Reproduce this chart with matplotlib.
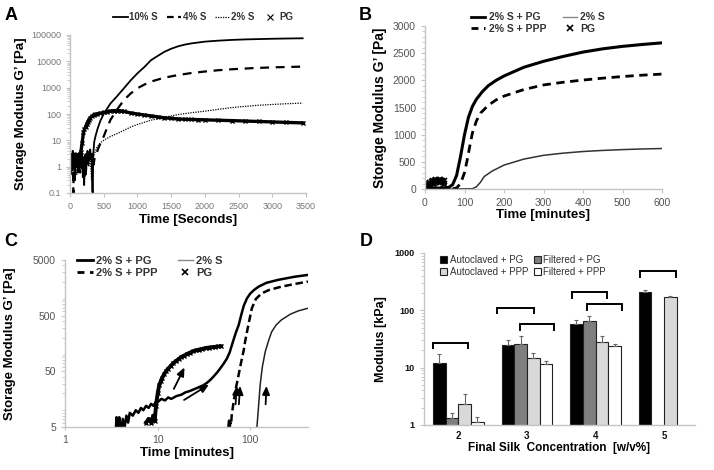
import numpy as np
import matplotlib
matplotlib.use('Agg')
import matplotlib.pyplot as plt
from matplotlib.lines import Line2D
from matplotlib.ticker import FixedLocator, FixedFormatter, LogLocator, NullFormatter

plt.rcParams['font.family'] = ['Liberation Sans', 'DejaVu Sans']

# ---------------- Panel A data (time in s, G' in Pa) ----------------
a10_t = [0, 10, 20, 30, 40, 50, 60, 70, 80, 90, 100, 110, 120, 130, 140, 150, 160, 170, 180, 190,
         200, 210, 220, 230, 240, 250, 260, 270, 280, 290, 300, 310, 320, 330, 338, 345, 360, 380,
         410, 450, 500, 550, 600, 700, 800, 900, 1000, 1100, 1200, 1300, 1400, 1500, 1600, 1700,
         1800, 2000, 2200, 2400, 2600, 2800, 3000, 3200, 3450]
a10_v = [2, 0.5, 3, 1, 4, 0.8, 2.5, 0.3, 1.5, 3, 1.2, 2.8, 0.6, 2, 3.5, 1, 2.2, 0.9, 2.8, 0.4,
         1.5, 0.2, 1.8, 3, 0.7, 2.5, 4, 1.2, 3, 1.8, 4.5, 2, 3, 0.12, 0.1, 3, 9, 15,
         28, 55, 100, 160, 250, 480, 950, 1900, 3500, 6000, 11000, 16000, 23000, 30000, 37000, 43000,
         48000, 56000, 61000, 65000, 68000, 70000, 72000, 73500, 75000]
a4_t = [0, 15, 30, 45, 50, 55, 70, 90, 110, 130, 150, 170, 190, 210, 230, 250, 270, 290, 310,
        330, 350, 370, 390, 420, 450, 500, 550, 600, 700, 800, 900, 1000, 1100, 1200, 1400, 1600,
        1800, 2000, 2200, 2400, 2700, 3000, 3450]
a4_v = [1.5, 3, 0.8, 2, 0.1, 1.2, 2.5, 1, 3, 1.5, 0.6, 2.2, 3.5, 1.2, 0.5, 2.8, 1.5, 4, 2,
        3, 1.2, 2.5, 3, 5, 7.6, 14, 30, 60, 150, 340, 600, 950, 1300, 1700, 2400, 3000,
        3600, 4100, 4600, 5000, 5500, 5900, 6300]
a2_t = [0, 20, 40, 60, 80, 100, 120, 140, 160, 180, 200, 220, 240, 260, 280, 300, 320, 340,
        360, 380, 400, 450, 500, 600, 700, 800, 900, 1000, 1200, 1400, 1600, 1800, 2000, 2200,
        2400, 2600, 2800, 3000, 3200, 3450]
a2_v = [1, 2.5, 0.7, 3, 1.8, 0.5, 2, 1.2, 3, 0.8, 2.2, 0.4, 1.5, 3, 1, 2.5, 0.3, 2,
        3, 4, 5.6, 8, 10, 14, 18, 24, 32, 40, 58, 75, 95, 112, 128, 150,
        175, 195, 215, 230, 245, 260]
apg_t = [0, 20, 40, 60, 80, 100, 120, 140, 160, 180, 200, 215, 230, 245, 260, 280, 300, 325,
         350, 375, 400, 450, 500, 550, 600, 650, 700, 750, 800, 900, 1000, 1100, 1200, 1300, 1400,
         1500, 1600, 1700, 1800, 1900, 2000, 2200, 2400, 2600, 2800, 3000, 3200, 3450]
apg_v = [1.5, 2.5, 1, 3, 2, 1.2, 2.8, 1.5, 3.5, 8, 20, 26, 32, 40, 48, 60, 72, 82,
         90, 96, 100, 108, 115, 122, 130, 134, 135, 132, 125, 110, 100, 92, 85, 78, 72,
         68, 65, 63, 62, 61, 60, 58, 56, 54, 52, 50, 48, 46]
a_yticks = [0.1, 1, 10, 100, 1000, 10000, 100000]
a_ylabels = ['0.1', '1', '10', '100', '1000', '10000', '100000']
a_xticks = [0, 500, 1000, 1500, 2000, 2500, 3000, 3500]

# ---------------- Panel B data (time in min, G' in Pa) ----------------
bpg_t = [0, 20, 40, 55, 60, 70, 80, 90, 100, 110, 120, 130, 145, 160, 180, 200, 250, 300, 350,
         400, 450, 500, 550, 600]
bpg_v = [0, 10, 20, 25, 30, 80, 250, 600, 1000, 1320, 1520, 1650, 1790, 1900, 2000, 2080, 2240,
         2350, 2440, 2520, 2580, 2625, 2660, 2690]
bppp_t = [0, 40, 70, 80, 90, 100, 107, 115, 120, 130, 141, 160, 180, 200, 250, 300, 350, 400,
          450, 500, 550, 600]
bppp_v = [0, 0, 5, 20, 100, 300, 540, 850, 1030, 1250, 1400, 1540, 1640, 1710, 1830, 1915, 1965,
          2005, 2040, 2070, 2095, 2115]
bs_t = [0, 60, 120, 130, 140, 150, 170, 200, 250, 300, 350, 400, 450, 500, 550, 600]
bs_v = [0, 0, 5, 40, 120, 230, 330, 440, 550, 620, 660, 690, 710, 725, 737, 745]
bmk_t = [1, 3, 5, 7, 9, 11, 13, 15, 17, 19, 21, 23, 25, 27, 29, 31, 33, 35, 37, 39, 41, 43, 45,
         47, 49]
bmk_v = [10, 40, 70, 20, 90, 50, 110, 80, 130, 100, 140, 115, 150, 125, 160, 140, 150, 165,
         135, 160, 140, 150, 125, 140, 100]
b_yticks = [0, 500, 1000, 1500, 2000, 2500, 3000]
b_xticks = [0, 100, 200, 300, 400, 500, 600]

# ---------------- Panel C data (log-log) ----------------
cpg_t = [3.55, 3.6, 3.7, 3.75, 3.85, 3.95, 4.1, 4.2, 4.4, 4.6, 4.8, 5.0, 5.4, 5.8, 6.2, 6.6, 7.0,
         7.5, 8, 8.5, 9, 9.5, 10, 11, 12, 13, 14, 15, 16, 18, 20, 22, 25, 28, 31, 34, 37, 40, 44,
         48, 52, 56, 60, 65, 70, 75, 80, 85, 92, 100, 110, 123, 150, 200, 300, 420]
cpg_v = [5, 7.5, 5, 5, 7.5, 5, 5, 7, 5, 8, 6, 9, 8, 10, 9, 11, 10,
         12, 11, 13, 12, 14, 14, 16, 15, 17, 16, 17, 18, 19, 21, 22, 24, 26, 28, 31, 35, 40, 48,
         58, 70, 85, 110, 170, 250, 340, 520, 750, 1020, 1250, 1450, 1660, 1950, 2200, 2500, 2700]
cppp_t = [58, 59, 60, 61, 62, 63, 66, 70, 75, 80, 85, 88, 95, 104, 115, 133, 160, 217, 300, 420]
cppp_v = [5, 6.5, 5, 6, 5.5, 8, 14, 25, 44, 75, 120, 172, 330, 680, 1000, 1260, 1450, 1660, 1850,
          2050]
cs_t = [118, 122, 128, 135, 145, 158, 170, 190, 217, 270, 330, 420]
cs_v = [5, 10, 29, 60, 112, 180, 255, 340, 420, 530, 610, 680]
cmk_t = [7.5, 8.0, 8.5, 9.0, 9.3, 9.6, 10, 10.4, 10.8, 11.2, 11.7, 12.3, 13, 13.8, 14.7, 15.7,
         16.8, 18, 19.3, 20.7, 22.2, 24, 26, 28, 30.5, 33, 36, 39, 42, 45, 48]
cmk_v = [6, 7, 6, 8, 6.5, 12, 20, 28, 33, 38, 44, 50, 56, 62, 70, 76, 83, 90, 96, 102, 108, 114,
         119, 123, 127, 131, 134, 136, 138, 140, 141]
c_yticks = [5, 50, 500, 5000]
c_xticks = [1, 10, 100]

# ---------------- Panel D data (kPa) ----------------
d_groups = ['2', '3', '4', '5']
d_auto_pg = [12, 25, 58, 210]
d_auto_pg_err = [5, 5, 10, 20]
d_filt_pg = [1.3, 26, 65, np.nan]
d_filt_pg_err = [0.3, 9, 15, np.nan]
d_auto_ppp = [2.3, 15, 28, 170]
d_auto_ppp_err = [1.2, 3, 8, 10]
d_filt_ppp = [1.15, 11.5, 23.5, np.nan]
d_filt_ppp_err = [0.25, 1.5, 2.5, np.nan]
d_bracket_group = [0, 1, 1, 2, 2, 3]
d_bracket_y = [27, 112, 57, 205, 128, 478]
d_yticks = [1, 10, 100, 1000]

W, H = 714, 470
fig = plt.figure(figsize=(W / 100, H / 100), dpi=100)


def box(l, t, r, b):
    return [l / W, 1 - b / H, (r - l) / W, (b - t) / H]


GRAY = '#c4c4c4'


def style(ax, labcolor='#555555', size=7, weight='normal'):
    for s in ['top', 'right']:
        ax.spines[s].set_visible(False)
    for s in ['left', 'bottom']:
        ax.spines[s].set_color(GRAY)
        ax.spines[s].set_linewidth(1.0)
    ax.tick_params(which='both', color=GRAY, direction='out', labelcolor=labcolor,
                   labelsize=size)
    ax.tick_params(which='major', length=3)
    ax.tick_params(which='minor', length=2)
    for lab in ax.get_xticklabels() + ax.get_yticklabels():
        lab.set_fontweight(weight)


# ---------------- Panel A ----------------
axA = fig.add_axes(box(70, 35, 306, 193))
axA.plot(a10_t, a10_v, color='black', lw=1.3)
axA.plot(a4_t, a4_v, color='black', lw=1.6, ls=(0, (4, 3)))
axA.plot(a2_t, a2_v, color='black', lw=0.9, ls=(0, (1, 1)))
axA.plot(apg_t, apg_v, color='black', lw=2.4, marker='x', ms=3.5, mew=1)
axA.set_yscale('log')
axA.set_xlim(0, 3500)
axA.set_ylim(0.1, 100000)
axA.yaxis.set_major_locator(FixedLocator(a_yticks))
axA.yaxis.set_major_formatter(FixedFormatter(a_ylabels))
axA.yaxis.set_minor_formatter(NullFormatter())
axA.set_xticks(a_xticks)
style(axA, labcolor='#777777', size=6.5)
axA.set_xlabel('Time [Seconds]', fontsize=9.5, fontweight='bold', labelpad=2)
axA.set_ylabel('Storage Modulus G’ [Pa]', fontsize=9.5, fontweight='bold', labelpad=3)
hA = [Line2D([], [], color='black', lw=1.3),
      Line2D([], [], color='black', lw=1.6, ls=(0, (3, 2))),
      Line2D([], [], color='black', lw=0.9, ls=(0, (1, 1))),
      Line2D([], [], color='black', lw=0, marker='x', ms=5, mew=0.8)]
fig.legend(hA, ['10% S', '4% S', '2% S', 'PG'], ncol=4, loc='center',
           bbox_to_anchor=(203 / W, 1 - 17 / H), frameon=False,
           prop={'size': 7, 'weight': 'bold'}, labelcolor='#333333',
           handlelength=1.5, handletextpad=0.15, columnspacing=0.9, borderaxespad=0)

# ---------------- Panel B ----------------
axB = fig.add_axes(box(425, 26, 662, 189))
axB.plot(bs_t, bs_v, color='#333333', lw=1.1)
axB.plot(bppp_t, bppp_v, color='black', lw=2.0, ls=(0, (3, 2)))
axB.plot(bpg_t, bpg_v, color='black', lw=2.2)
axB.plot(bmk_t, bmk_v, color='black', lw=3, marker='x', ms=4, mew=1.2)
axB.set_xlim(0, 600)
axB.set_ylim(0, 3000)
axB.set_yticks(b_yticks)
axB.set_xticks(b_xticks)
axB.yaxis.set_minor_locator(FixedLocator(np.arange(0, 3001, 100)))
style(axB, labcolor='#555555', size=7.5)
axB.set_xlabel('Time [minutes]', fontsize=9.5, fontweight='bold', labelpad=1)
axB.set_ylabel('Storage Modulus G’ [Pa]', fontsize=10, fontweight='bold', labelpad=4)
hB = [Line2D([], [], color='black', lw=2.0),
      Line2D([], [], color='black', lw=2.0, ls=(0, (2.5, 2))),
      Line2D([], [], color='#888888', lw=1.0),
      Line2D([], [], color='black', lw=0, marker='x', ms=4, mew=1.2)]
fig.legend(hB, ['2% S + PG', '2% S + PPP', '2% S', 'PG'], ncol=2, loc='center',
           bbox_to_anchor=(538 / W, 1 - 23 / H), frameon=False,
           prop={'size': 7.5, 'weight': 'bold'}, labelcolor='#333333',
           handlelength=1.4, handletextpad=0.3, columnspacing=1.6, labelspacing=0.15,
           borderaxespad=0)

# ---------------- Panel C ----------------
axC = fig.add_axes(box(65, 260, 308, 427))
axC.plot(cs_t, cs_v, color='#222222', lw=1.1)
axC.plot(cppp_t, cppp_v, color='black', lw=1.8, ls=(0, (3, 1.5)))
axC.plot(cpg_t, cpg_v, color='black', lw=1.8)
axC.plot(cmk_t, cmk_v, color='black', lw=2.8, marker='x', ms=3.5, mew=1)
axC.set_xscale('log')
axC.set_yscale('log')
axC.set_xlim(1, 420)
axC.set_ylim(5, 5000)
axC.yaxis.set_major_locator(FixedLocator(c_yticks))
axC.yaxis.set_major_formatter(FixedFormatter([str(v) for v in c_yticks]))
axC.yaxis.set_minor_locator(LogLocator(base=10, subs=np.arange(1, 10)))
axC.yaxis.set_minor_formatter(NullFormatter())
axC.xaxis.set_major_locator(FixedLocator(c_xticks))
axC.xaxis.set_major_formatter(FixedFormatter([str(v) for v in c_xticks]))
axC.xaxis.set_minor_locator(FixedLocator([]))
style(axC, labcolor='#555555', size=7.5)
axC.tick_params(axis='x', which='major', length=2)
axC.set_xlabel('Time [minutes]', fontsize=9.5, fontweight='bold', labelpad=2)
axC.set_ylabel('Storage Modulus G’ [Pa]', fontsize=9.5, fontweight='bold', labelpad=12)
arrow_kw = dict(arrowstyle='-|>,head_length=0.5,head_width=0.22', color='black', lw=1.3)
axC.annotate('', xy=(20.1, 65), xytext=(14.5, 21.8), arrowprops=arrow_kw)
axC.annotate('', xy=(37.9, 30.7), xytext=(18.2, 14.4), arrowprops=arrow_kw)
axC.annotate('', xy=(72, 30.7), xytext=(69, 11.4), arrowprops=arrow_kw)
axC.annotate('', xy=(78, 30.7), xytext=(75, 11.4), arrowprops=arrow_kw)
axC.annotate('', xy=(150, 30.7), xytext=(146, 11.4), arrowprops=arrow_kw)
hC = [Line2D([], [], color='black', lw=2.0),
      Line2D([], [], color='black', lw=2.0, ls=(0, (2.5, 2))),
      Line2D([], [], color='#888888', lw=1.0),
      Line2D([], [], color='black', lw=0, marker='x', ms=4, mew=1.2)]
fig.legend(hC, ['2% S + PG', '2% S + PPP', '2% S', 'PG'], ncol=2, loc='center',
           bbox_to_anchor=(150 / W, 1 - 267 / H), frameon=False,
           prop={'size': 8, 'weight': 'bold'}, labelcolor='#333333',
           handlelength=1.4, handletextpad=0.3, columnspacing=1.8, labelspacing=0.15,
           borderaxespad=0)

# ---------------- Panel D ----------------
axD = fig.add_axes(box(424, 253, 695, 425))
xg = np.arange(len(d_groups))
bw = 0.185
series = [(d_auto_pg, d_auto_pg_err, 'black', 'Autoclaved + PG'),
          (d_filt_pg, d_filt_pg_err, '#7f7f7f', 'Filtered + PG'),
          (d_auto_ppp, d_auto_ppp_err, '#d9d9d9', 'Autoclaved + PPP'),
          (d_filt_ppp, d_filt_ppp_err, 'white', 'Filtered + PPP')]
handles = {}
for i, (vals, errs, col, lab) in enumerate(series):
    xs = xg + (i - 1.5) * bw
    vals = np.array(vals, dtype=float)
    errs = np.array(errs, dtype=float)
    b = axD.bar(xs, vals, width=bw, color=col, edgecolor='#222222', linewidth=0.8, label=lab,
                zorder=2)
    ok = ~np.isnan(vals)
    axD.errorbar(xs[ok], vals[ok], yerr=[np.zeros(ok.sum()), errs[ok]], fmt='none',
                 ecolor='#666666', elinewidth=0.8, capsize=1.5, capthick=0.8, zorder=3)
    handles[lab] = b
# significance brackets
b_x0 = [-0.365, -0.43, -0.10, -0.35, -0.13, -0.35]
b_x1 = [0.146, 0.10, 0.40, 0.17, 0.39, 0.17]
for g, y, x0, x1 in zip(d_bracket_group, d_bracket_y, b_x0, b_x1):
    axD.plot([g + x0, g + x0, g + x1, g + x1], [y / 1.25, y, y, y / 1.25], color='black',
             lw=1.4, solid_joinstyle='miter', zorder=4)
axD.set_yscale('log')
axD.set_ylim(1, 1000)
axD.set_xlim(-0.5, 3.45)
axD.yaxis.set_major_locator(FixedLocator(d_yticks))
axD.yaxis.set_major_formatter(FixedFormatter([str(v) for v in d_yticks]))
axD.yaxis.set_minor_locator(LogLocator(base=10, subs=np.arange(1, 10)))
axD.yaxis.set_minor_formatter(NullFormatter())
axD.set_xticks(xg)
axD.set_xticklabels(d_groups)
style(axD, labcolor='#111111', size=6.5, weight='bold')
axD.tick_params(axis='x', which='major', length=0, pad=4, labelsize=7)
axD.set_xlabel('Final Silk  Concentration  [w/v%]', fontsize=8.5, fontweight='bold',
               labelpad=1)
axD.set_ylabel('Modulus [kPa]', fontsize=9, fontweight='bold', labelpad=6)
order = ['Autoclaved + PG', 'Autoclaved + PPP', 'Filtered + PG', 'Filtered + PPP']
fig.legend([handles[k] for k in order], order, ncol=2, loc='center',
           bbox_to_anchor=(523 / W, 1 - 266 / H), frameon=False,
           prop={'size': 7}, labelcolor='#333333',
           handlelength=0.7, handleheight=0.7, handletextpad=0.25, columnspacing=0.6,
           labelspacing=0.2, borderaxespad=0)

# panel letters
for txt, x, y in [('A', 11, 15), ('B', 365, 15), ('C', 11, 241), ('D', 366, 241)]:
    fig.text(x / W, 1 - y / H, txt, fontsize=13, fontweight='bold', ha='center', va='center')

fig.savefig('out.png', dpi=100)
